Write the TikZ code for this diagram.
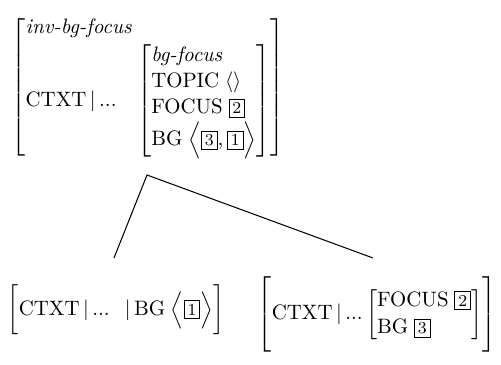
\documentclass[tikz,border=0pt]{standalone}
\usepackage{amsmath}
\usepackage{tikz}
\newcommand{\tagnum}[1]{{\setlength{\fboxsep}{1.4pt}\setlength{\fboxrule}{0.5pt}\fbox{\footnotesize #1}}}
\newcommand{\feat}[1]{\text{#1}}

\begin{document}
\begin{tikzpicture}[x=0.48pt, y=-0.48pt,
    avm/.style={inner sep=0pt, anchor=center},
    branch/.style={line width=0.5pt}
]
\useasboundingbox (0,0) rectangle (501,365);
% mother AVM
\node[avm] (mother) at (148,87) {\renewcommand{\arraystretch}{1.05}$\left[\begin{array}{@{}l@{}}
    \textit{inv-bg-focus}\\[1pt]
    \feat{CTXT}\,|\,\feat{...}\;\;\;\left[\begin{array}{@{}l@{}}
        \textit{bg-focus}\\
        \feat{TOPIC}\;\langle\rangle\\
        \feat{FOCUS}\;\tagnum{2}\\
        \feat{BG}\;\Bigl\langle\tagnum{3},\tagnum{1}\Bigr\rangle
    \end{array}\right]
\end{array}\right]$};
% daughters
\node[avm] (left) at (116,310) {$\biggl[\feat{CTXT}\,|\,\feat{...}\;\;\,|\,\feat{BG}\;\Bigl\langle\tagnum{1}\Bigr\rangle\biggr]$};
\node[avm] (right) at (377,314) {\renewcommand{\arraystretch}{1.1}$\left[\rule{0pt}{21pt}\feat{CTXT}\,|\,\feat{...}\left[\begin{array}{@{}l@{}}
        \feat{FOCUS}\;\tagnum{2}\\
        \feat{BG}\;\tagnum{3}
    \end{array}\right]\right]$};

\coordinate (apex) at (147,175);
\coordinate (lend) at (114,258);
\coordinate (rend) at (373,258);
\draw[branch] (lend) -- (apex) -- (rend);
\end{tikzpicture}
\end{document}
